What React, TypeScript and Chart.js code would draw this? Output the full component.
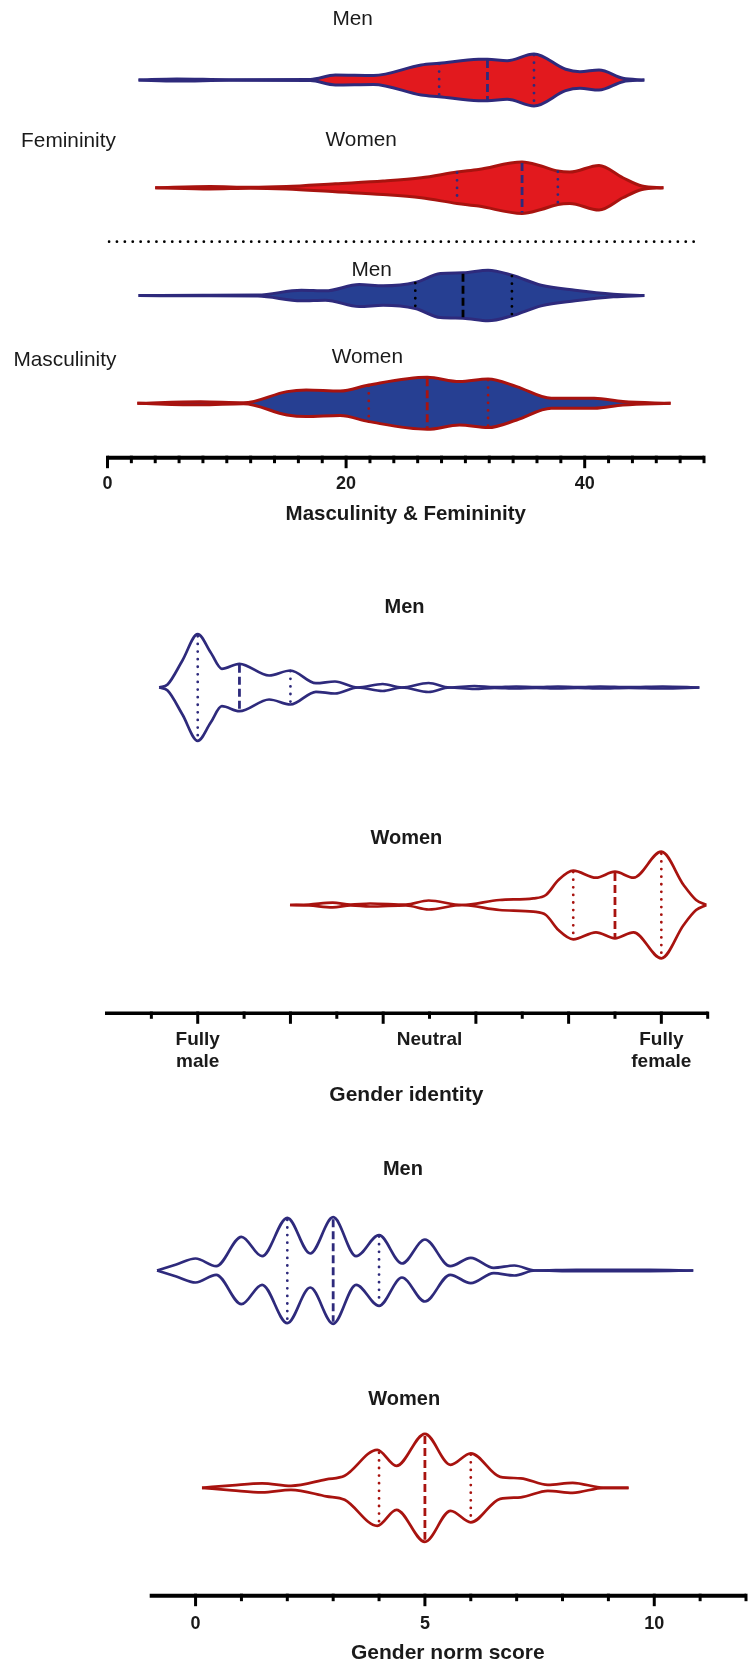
import React, { useEffect, useRef } from 'react';
import { Chart, registerables } from 'chart.js';

Chart.register(...registerables);

const FONT = '"Liberation Sans", Arial, Helvetica, sans-serif';

// ---------- Panel 1: Masculinity & Femininity (score 0-50) ----------
const FEM_MEN_X = [2.6, 5.8, 10.2, 17.0, 19.1, 22.3, 26.3, 27.8, 31.1, 31.85, 33.5, 35.75, 38.4, 39.6, 41.2, 43.2, 45.0];
const FEM_MEN_D = [0, 1.0, 0.3, 0.6, 5, 4.5, 15, 16.7, 20.7, 20.8, 19.3, 26, 10.7, 8.3, 10, 1.7, 0];
const FEM_MEN_Q = [27.8, 31.85, 35.75];

const FEM_WOMEN_X = [4.0, 8.6, 12.0, 15.0, 19.1, 23.1, 26.3, 29.3, 31.1, 34.75, 36.35, 37.75, 38.75, 41.2, 43.2, 44.8, 46.6];
const FEM_WOMEN_D = [0, 1.2, 0.4, 1.2, 4, 6.7, 10, 15.7, 18.3, 25.7, 21.7, 16.7, 15.7, 22.3, 10, 1.7, 0];
const FEM_WOMEN_Q = [29.3, 34.75, 37.75];

const MASC_MEN_X = [2.6, 8, 12.6, 16.25, 18.26, 21.1, 23.1, 25.8, 27.9, 29.8, 31.9, 33.9, 36.35, 39.2, 42.4, 45.0];
const MASC_MEN_D = [0, 0.3, 0.5, 5.3, 4.7, 11, 9.7, 13, 22, 22.7, 25.3, 20.3, 10.3, 5.3, 1.3, 0];
const MASC_MEN_Q = [25.8, 29.8, 33.9];

const MASC_WOMEN_X = [2.5, 7.8, 11.4, 15.05, 16.65, 19.5, 21.9, 26.8, 29.5, 31.9, 34.3, 37.2, 40.8, 43.2, 47.2];
const MASC_WOMEN_D = [0, 1.5, 0.5, 11.7, 13.3, 12.3, 18.3, 26, 21.7, 24.3, 16.7, 5, 5, 1.7, 0];
const MASC_WOMEN_Q = [21.9, 26.8, 31.9];

const MF_TICK_VALUES = [0, 20, 40];
const MF_TICK_LABELS = ['0', '20', '40'];

// ---------- Panel 2: Gender identity (0 = fully male, 100 = fully female) ----------
const GI_MEN_X = [-8.3, -6.5, -3.3, 0, 2.8, 5.2, 9, 15.4, 20, 25.5, 29.6, 34.5, 39.9, 44, 49.8, 54.3, 59.7, 64, 68.7, 73, 77.7, 82, 86.8, 93, 100.3, 108.2];
const GI_MEN_D = [0, 3, 27, 53.3, 35, 18.7, 23.7, 12, 17, 4.3, 6, 0, 3.5, 0, 4.5, 0, 1.5, 0.3, 1.0, 0.3, 1.0, 0.3, 1.0, 0.3, 1.0, 0];
const GI_MEN_Q = [0, 9, 20];

const GI_WOMEN_X = [19.9, 24, 29.1, 33, 37.2, 44.9, 49.8, 57, 65.1, 72.4, 75.1, 77.8, 81, 85.9, 90, 94, 100, 104.8, 107.5, 109.7];
const GI_WOMEN_D = [0, 0.5, 2.3, 0.5, 1.5, 0.5, 4.5, 0, 5, 6.7, 10, 25, 34.3, 27.3, 33.3, 27.3, 53.3, 20, 5, 0];
const GI_WOMEN_Q = [81, 90, 100];

const GI_TICK_VALUES = [0, 50, 100];
const GI_TICK_LABELS = [['Fully', 'male'], ['Neutral'], ['Fully', 'female']];

// ---------- Panel 3: Gender norm score ----------
const GN_MEN_X = [-0.84, -0.42, 0, 0.45, 1, 1.45, 2, 2.5, 3, 3.5, 4, 4.5, 5, 5.55, 6, 6.5, 6.95, 7.4, 8.3, 9.9, 10.85];
const GN_MEN_D = [0, 6, 12, 4.3, 33.7, 14.3, 52.7, 17, 53.3, 14.3, 35.3, 7, 31, 4.3, 12.7, 2.7, 5, 0, 0.6, 0.6, 0];
const GN_MEN_Q = [2, 3, 4];

const GN_WOMEN_X = [0.14, 0.8, 1.45, 2.08, 2.85, 3.25, 3.96, 4.38, 5, 5.56, 6, 6.64, 7.09, 7.68, 8.22, 8.9, 9.44];
const GN_WOMEN_D = [0, 2.5, 4.5, 2, 8.5, 12, 38, 22, 54, 23, 34.5, 11, 9.5, 3, 5, 0, 0];
const GN_WOMEN_Q = [4, 5, 6];

const GN_TICK_VALUES = [0, 5, 10];
const GN_TICK_LABELS = ['0', '5', '10'];

// ---------- styles ----------
const RED_FILL = '#e2191e';
const BLUE_FILL = '#263f92';
const NAVY = '#2e2a7c';
const DARK_RED = '#a8130f';
const TEXT = '#1a1a1a';

function densityAt(xs: number[], ds: number[], q: number) {
  for (let i = 0; i < xs.length - 1; i++) {
    if (q >= xs[i] && q <= xs[i + 1]) {
      const t = (q - xs[i]) / (xs[i + 1] - xs[i] || 1);
      return ds[i] + t * (ds[i + 1] - ds[i]);
    }
  }
  return 0;
}

type Violin = {
  xs: number[]; ds: number[]; qs: number[]; center: number;
  border: string; fill: string | null; qColor: string;
};

function violinDatasets(v: Violin, k: number, lw: number) {
  const upper = v.xs.map((x, i) => ({ x, y: v.center - v.ds[i] * k }));
  const lower = v.xs.map((x, i) => ({ x, y: v.center + v.ds[i] * k }));
  const line = {
    borderColor: v.border, borderWidth: lw, pointRadius: 0,
    cubicInterpolationMode: 'monotone' as const,
  };
  const sets: any[] = [
    { ...line, data: upper, order: 2, fill: v.fill ? '+1' : false, backgroundColor: v.fill || 'transparent' },
    { ...line, data: lower, order: 1, fill: false },
  ];
  v.qs.forEach((q, i) => {
    const h = densityAt(v.xs, v.ds, q) * 0.96 * k;
    const median = i === 1;
    sets.push({
      data: [{ x: q, y: v.center - h }, { x: q, y: v.center + h }],
      order: 0,
      borderColor: v.qColor, borderWidth: 2.8, pointRadius: 0, fill: false,
      borderDash: median ? [8, 4] : [0, 7.6],
      borderCapStyle: median ? 'butt' : 'round',
    });
  });
  return sets;
}

type Label = { text: string; x: number; y: number; bold: boolean };

type PanelCfg = {
  height: number; xMin: number; xMax: number; step: number;
  padLeft: number; padRight: number; scaleHeight: number;
  tickPad: number; tickFont: number; tickValues: number[]; tickLabels: any[];
  majors: number[]; skipStart: boolean; axisWidth: number; lineWidth: number;
  title: string; titleFont: number; titlePad: number; labelFont: number;
  yMin: number; yMax: number; k: number;
  violins: Violin[]; labels: Label[];
  separator?: { y: number; x0: number; x1: number };
};

function buildChart(canvas: HTMLCanvasElement, p: PanelCfg) {
  const datasets: any[] = [];
  p.violins.forEach((v) => datasets.push(...violinDatasets(v, p.k, p.lineWidth)));
  if (p.separator) {
    datasets.push({
      data: [{ x: p.separator.x0, y: p.separator.y }, { x: p.separator.x1, y: p.separator.y }],
      order: 0,
      borderColor: '#000', borderWidth: 2.8, pointRadius: 0, fill: false,
      borderDash: [0, 7.9], borderCapStyle: 'round',
    });
  }
  const decor = {
    id: 'decor',
    afterDraw(chart: any) {
      const ctx = chart.ctx;
      const xs = chart.scales.x;
      const ys = chart.scales.y;
      const y0 = chart.chartArea.bottom;
      ctx.save();
      ctx.strokeStyle = '#000';
      ctx.lineCap = 'butt';
      ctx.lineWidth = p.axisWidth;
      ctx.beginPath();
      ctx.moveTo(xs.getPixelForValue(p.xMin), y0);
      ctx.lineTo(xs.getPixelForValue(p.xMax), y0);
      ctx.stroke();
      ctx.lineWidth = 3;
      xs.ticks.forEach((t: any) => {
        if (p.skipStart && t.value === p.xMin) return;
        const px = xs.getPixelForValue(t.value);
        const major = p.majors.includes(t.value);
        ctx.beginPath();
        ctx.moveTo(px, y0 - p.axisWidth / 2);
        ctx.lineTo(px, y0 + (major ? 10.5 : 5.5));
        ctx.stroke();
      });
      ctx.fillStyle = TEXT;
      ctx.textAlign = 'center';
      ctx.textBaseline = 'alphabetic';
      p.labels.forEach((l) => {
        ctx.font = `${l.bold ? 'bold ' : ''}${p.labelFont}px ${FONT}`;
        ctx.fillText(l.text, xs.getPixelForValue(l.x), ys.getPixelForValue(l.y));
      });
      ctx.restore();
    },
  };
  return new Chart(canvas, {
    type: 'line',
    data: { datasets },
    plugins: [decor],
    options: {
      animation: false,
      responsive: false,
      maintainAspectRatio: false,
      layout: { padding: { left: p.padLeft, right: p.padRight, top: 0, bottom: 0 } },
      plugins: { legend: { display: false }, tooltip: { enabled: false }, title: { display: false } },
      elements: { point: { radius: 0 } },
      scales: {
        x: {
          type: 'linear', position: 'bottom', min: p.xMin, max: p.xMax,
          afterFit: (s: any) => { s.height = p.scaleHeight; },
          grid: { display: false, drawTicks: true, tickLength: 10 },
          border: { display: false },
          ticks: {
            stepSize: p.step, autoSkip: false, maxRotation: 0, minRotation: 0,
            padding: p.tickPad, color: TEXT,
            font: { family: FONT, size: p.tickFont, weight: 'bold', lineHeight: 1.15 },
            callback: (v: any) => {
              const i = p.tickValues.indexOf(Number(v));
              return i >= 0 ? p.tickLabels[i] : '';
            },
          },
          title: {
            display: true, text: p.title, color: TEXT,
            font: { family: FONT, size: p.titleFont, weight: 'bold', lineHeight: 1.2 },
            padding: { top: 0, bottom: p.titlePad },
          },
        },
        y: { type: 'linear', display: false, reverse: true, min: p.yMin, max: p.yMax },
      },
    } as any,
  });
}

const PANEL1: PanelCfg = {
  height: 540, xMin: 0, xMax: 50, step: 2, padLeft: 107.5, padRight: 50, scaleHeight: 82.3,
  tickPad: 6, tickFont: 18, tickValues: MF_TICK_VALUES, tickLabels: MF_TICK_LABELS,
  majors: MF_TICK_VALUES, skipStart: false, axisWidth: 4, lineWidth: 3,
  title: 'Masculinity & Femininity', titleFont: 20.5, titlePad: 13.5, labelFont: 20.8,
  yMin: 0.2577, yMax: 4.5047, k: 1 / 107.77,
  violins: [
    { xs: FEM_MEN_X, ds: FEM_MEN_D, qs: FEM_MEN_Q, center: 1, border: NAVY, fill: RED_FILL, qColor: NAVY },
    { xs: FEM_WOMEN_X, ds: FEM_WOMEN_D, qs: FEM_WOMEN_Q, center: 2, border: DARK_RED, fill: RED_FILL, qColor: NAVY },
    { xs: MASC_MEN_X, ds: MASC_MEN_D, qs: MASC_MEN_Q, center: 3, border: NAVY, fill: BLUE_FILL, qColor: '#000' },
    { xs: MASC_WOMEN_X, ds: MASC_WOMEN_D, qs: MASC_WOMEN_Q, center: 4, border: DARK_RED, fill: BLUE_FILL, qColor: DARK_RED },
  ],
  labels: [
    { text: 'Men', x: 20.55, y: 0.49, bold: false },
    { text: 'Femininity', x: -3.27, y: 1.619, bold: false },
    { text: 'Women', x: 21.27, y: 1.61, bold: false },
    { text: 'Men', x: 22.14, y: 2.819, bold: false },
    { text: 'Masculinity', x: -3.57, y: 3.654, bold: false },
    { text: 'Women', x: 21.78, y: 3.629, bold: false },
  ],
  separator: { y: 2.5, x0: 0.13, x1: 49.7 },
};

const PANEL2: PanelCfg = {
  height: 580, xMin: -20, xMax: 110, step: 10, padLeft: 105, padRight: 46.3, scaleHeight: 106.7,
  tickPad: 6, tickFont: 19, tickValues: GI_TICK_VALUES, tickLabels: GI_TICK_LABELS,
  majors: [0, 20, 40, 60, 80, 100], skipStart: true, axisWidth: 3.5, lineWidth: 2.7,
  title: 'Gender identity', titleFont: 21, titlePad: 11.7, labelFont: 20,
  yMin: 0.3218, yMax: 2.4979, k: 1 / 217.5,
  violins: [
    { xs: GI_MEN_X, ds: GI_MEN_D, qs: GI_MEN_Q, center: 1, border: NAVY, fill: null, qColor: NAVY },
    { xs: GI_WOMEN_X, ds: GI_WOMEN_D, qs: GI_WOMEN_Q, center: 2, border: DARK_RED, fill: null, qColor: DARK_RED },
  ],
  labels: [
    { text: 'Men', x: 44.6, y: 0.6588, bold: true },
    { text: 'Women', x: 45.0, y: 1.7209, bold: true },
  ],
};

const PANEL3: PanelCfg = {
  height: 547, xMin: -1, xMax: 12, step: 1, padLeft: 149.7, padRight: 4.2, scaleHeight: 71.3,
  tickPad: 8, tickFont: 18, tickValues: GN_TICK_VALUES, tickLabels: GN_TICK_LABELS,
  majors: GN_TICK_VALUES, skipStart: true, axisWidth: 4, lineWidth: 2.7,
  title: 'Gender norm score', titleFont: 21, titlePad: 1, labelFont: 20,
  yMin: 0.3074, yMax: 2.4965, k: 1 / 217.3,
  violins: [
    { xs: GN_MEN_X, ds: GN_MEN_D, qs: GN_MEN_Q, center: 1, border: NAVY, fill: null, qColor: NAVY },
    { xs: GN_WOMEN_X, ds: GN_WOMEN_D, qs: GN_WOMEN_Q, center: 2, border: DARK_RED, fill: null, qColor: DARK_RED },
  ],
  labels: [
    { text: 'Men', x: 4.52, y: 0.5605, bold: true },
    { text: 'Women', x: 4.55, y: 1.619, bold: true },
  ],
};

function Panel({ cfg, top }: { cfg: PanelCfg; top: number }) {
  const ref = useRef<HTMLCanvasElement | null>(null);
  useEffect(() => {
    if (!ref.current) return;
    const chart = buildChart(ref.current, cfg);
    return () => chart.destroy();
  }, [cfg]);
  return (
    <canvas
      ref={ref}
      width={754}
      height={cfg.height}
      style={{ position: 'absolute', left: 0, top, width: 754, height: cfg.height, display: 'block' }}
    />
  );
}

export default function App() {
  return (
    <div style={{ position: 'absolute', left: 0, top: 0, width: 754, height: 1667, background: '#fff', overflow: 'hidden' }}>
      <Panel cfg={PANEL1} top={0} />
      <Panel cfg={PANEL2} top={540} />
      <Panel cfg={PANEL3} top={1120} />
    </div>
  );
}
